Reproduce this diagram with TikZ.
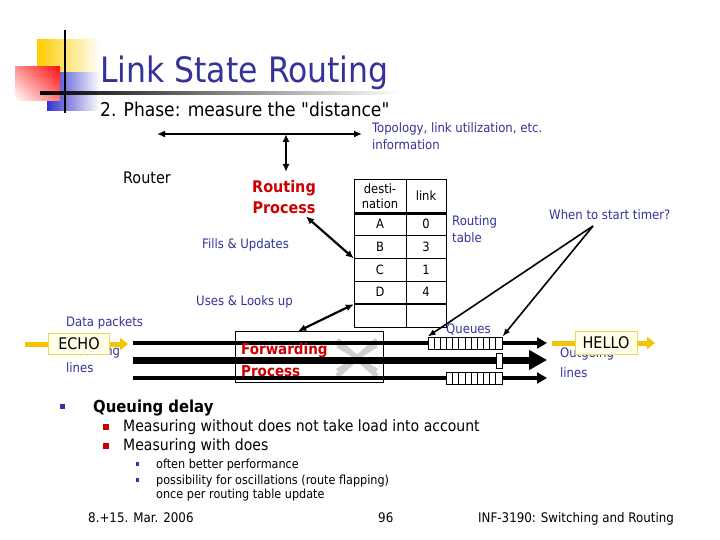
\documentclass[tikz,border=0pt]{standalone}
\usepackage{fontspec}
\setmainfont{DejaVu Sans Condensed}
\usetikzlibrary{arrows.meta,positioning,shadings}
\definecolor{lsblue}  {HTML}{333399}
\definecolor{lsred}   {HTML}{CC0000}
\definecolor{lsyellow}{HTML}{F5C400}
\definecolor{lspale}  {HTML}{FFFFE8}
\definecolor{lsedge}  {HTML}{E8D860}
\definecolor{lsgray}  {HTML}{CFCFCF}
\definecolor{lslogoy} {HTML}{FFCC00}
\definecolor{lslogob} {HTML}{3333CC}
\definecolor{lslogor} {HTML}{FF1010}
\definecolor{lsbullet}{HTML}{3333AA}
\tikzset{
  lslabel/.style={inner sep=0pt, anchor=base west, text=lsblue,
                  font=\fontsize{13}{17}\selectfont},
  lsplain/.style={lslabel, text=black},
  lsproc/.style={inner sep=0pt, text=lsred, font=\bfseries\fontsize{16}{21}\selectfont},
  lscell/.style={draw, thin, minimum width=52pt, minimum height=22.6pt, inner sep=0pt,
                 font=\fontsize{12.8}{14.5}\selectfont},
  lsqcell/.style={draw, fill=white, line width=0.8pt, minimum width=6.17pt,
                  minimum height=12pt, inner sep=0pt},
  lsarrow/.style={{Latex[length=8pt,width=7pt]}-{Latex[length=8pt,width=7pt]},
                  line width=2.2pt},
  lstimer/.style={-{Latex[length=8pt,width=6pt]}, line width=1.6pt},
  lsline/.style={-{Triangle[length=10pt,width=11pt]}, line width=4pt},
  lspacket/.style={draw=lsedge, fill=lspale, line width=1pt, minimum width=61pt,
                   minimum height=21pt, inner sep=0pt, font=\fontsize{16}{18}\selectfont},
  lsmove/.style={-{Triangle[length=8pt,width=12pt]}, line width=5pt, draw=lsyellow},
  lsdot/.style={fill=lsbullet, inner sep=0pt, minimum size=4.5pt},
  lsfoot/.style={lsplain, font=\fontsize{13.2}{15}\selectfont},
}

\begin{document}
\begin{tikzpicture}[x=1pt,y=-1pt]
  \useasboundingbox[fill=white] (0,0) rectangle (720,540);

  % logo
  \shade[left color=lslogoy, middle color=lslogoy!90, right color=white] (37,40) rectangle (100,75);
  \shade[left color=lslogob, middle color=lslogob!80, right color=white] (47,73) rectangle (100,111);
  \shade[upper right=lslogor, upper left=lslogor!45, lower right=lslogor!55, lower left=white]
    (15,67) rectangle (60,101);
  \draw[line width=2.5pt] (65,30) -- (65,113);
  \shade[left color=black, middle color=gray!80, right color=white] (40,92) rectangle (400,95);

  \node[lslabel, font=\fontsize{35}{40}\selectfont] (title) at (100,83) {Link State Routing};
  \node[lsplain, font=\fontsize{19}{22}\selectfont] (phase) at (100,117)
    {2. Phase: measure the \textquotedbl distance\textquotedbl};

  \node[lslabel, align=left] (topo) at (372,150) {Topology, link utilization, etc.\\information};
  \coordinate (topo-l) at (157,134);
  \coordinate (topo-r) at (362,134);
  \coordinate (topo-m) at (286,134);

  \node[lsplain, font=\fontsize{16}{20}\selectfont] (router) at (123,184) {Router};
  \node[lsproc, align=center, anchor=base] (rproc) at (284,214) {Routing\\Process};
  \draw[lsarrow] (topo-l) -- (topo-r);
  \draw[lsarrow] (topo-m) -- (286,172);

  \node[lslabel] (fills) at (202,248) {Fills \& Updates};
  \node[lslabel] (uses) at (196,305) {Uses \& Looks up};

  % routing table
  \node[lscell, minimum height=34pt, align=center] (dst-h) at (380,196) {desti-\\nation};
  \node[lscell, minimum width=40pt, minimum height=34pt] (lnk-h) at (426,196) {link};
  \foreach \d/\l [count=\k] in {A/0,B/3,C/1,D/4}
    {\node[lscell] (dst-\k) at (380,{213+22.6*(\k-0.5)}) {\d};
     \node[lscell, minimum width=40pt] (lnk-\k) at (426,{213+22.6*(\k-0.5)}) {\l};}
  \node[lscell] (dst-5) at (380,315.7) {};
  \node[lscell, minimum width=40pt] (lnk-5) at (426,315.7) {};
  \draw[line width=3pt] (dst-h.south west) -- (lnk-h.south east);
  \node[lslabel, align=left] (rtable) at (452,242) {Routing\\table};

  \node[lslabel] (timer) at (549,219) {When to start timer?};
  \coordinate (tmr) at (593,226);

  % forwarding part
  \node[draw, thin, fill=white, minimum width=148pt, minimum height=51pt] (fproc) at (309,357) {};
  \draw[lsgray, line width=5pt] (337,340) -- (377,376) (337,376) -- (377,340);
  \draw[lsgray, line width=3pt] (337,346) -- (377,370) (337,370) -- (377,346);

  \coordinate (in1) at (133,343);
  \coordinate (in2) at (133,360);
  \coordinate (in3) at (133,378);
  \coordinate (out1) at (547,343);
  \coordinate (out2) at (547,360);
  \coordinate (out3) at (547,378);
  \draw[lsline] (in1) -- (out1);
  \draw[lsline, line width=7pt, -{Triangle[length=18pt,width=19pt]}] (in2) -- (out2);
  \draw[lsline] (in3) -- (out3);

  \foreach \i in {1,...,12}
    {\node[lsqcell] (qa\i) at ({428+6.17*(\i-0.5)},343) {};}
  \node[lsqcell, minimum width=5.5pt, minimum height=15pt] (qb1) at (499.5,360.5) {};
  \foreach \i in {1,...,9}
    {\node[lsqcell] (qc\i) at ({446.5+6.17*(\i-0.5)},378.5) {};}

  \node[lsproc, align=left, anchor=base west, font=\bfseries\fontsize{15}{22}\selectfont]
    (ftxt) at (241,376) {Forwarding\\Process};
  \node[lslabel] (queues) at (446,333) {Queues};

  \draw[lsarrow] ([xshift=-10pt,yshift=-2pt]rproc.south east) -- (dst-2.south west);
  \draw[lsarrow] (dst-5.north west) -- ([xshift=-11pt]fproc.north);
  \draw[lstimer] (tmr) -- (qa1.north west);
  \draw[lstimer] (tmr) -- (qa12.north east);

  % packets
  \node[lslabel] (data) at (66,326) {Data packets};
  \node[lslabel, align=left] (incoming) at (66,372) {Incoming\\lines};
  \coordinate (echo-in) at (25,344);
  \coordinate (echo-out) at (128,344);
  \draw[lsmove] (echo-in) -- (echo-out);
  \node[lspacket] (echo) at (79,344) {ECHO};

  \node[lslabel, align=left, font=\fontsize{13}{20}\selectfont] (outgoing) at (560,377) {Outgoing\\lines};
  \coordinate (hello-in) at (552,343);
  \coordinate (hello-out) at (655,343);
  \draw[lsmove] (hello-in) -- (hello-out);
  \node[lspacket, minimum width=62pt, minimum height=23pt] (hello) at (606,343) {HELLO};

  % bullets
  \node[lsdot] (d1) at (62.5,406.5) {};
  \node[lsplain, font=\bfseries\fontsize{16.5}{21}\selectfont] (b-queuing) at (93,412) {Queuing delay};
  \node[lsdot, fill=lsred, minimum size=6pt] (d2) at (106,427) {};
  \node[lsdot, fill=lsred, minimum size=6pt] (d3) at (106,446) {};
  \node[lsplain, font=\fontsize{15.6}{19}\selectfont] (b-without) at (123,431)
    {Measuring without does not take load into account};
  \node[lsplain, font=\fontsize{15.6}{19}\selectfont] (b-with) at (123,450) {Measuring with does};
  \node[lsdot, minimum size=3.5pt] (d4) at (137.5,464) {};
  \node[lsdot, minimum size=3.5pt] (d5) at (137.5,480) {};
  \node[lsplain, font=\fontsize{12.5}{14}\selectfont] (b-often) at (156,468) {often better performance};
  \node[lsplain, font=\fontsize{12.5}{14}\selectfont, align=left] (b-osc) at (156,498)
    {possibility for oscillations (route flapping)\\once per routing table update};

  % footer
  \node[lsfoot] (f-date) at (88,522) {8.+15. Mar. 2006};
  \node[lsfoot] (f-page) at (378,522) {96};
  \node[lsfoot] (f-course) at (478,522) {INF-3190: Switching and Routing};
\end{tikzpicture}
\end{document}
